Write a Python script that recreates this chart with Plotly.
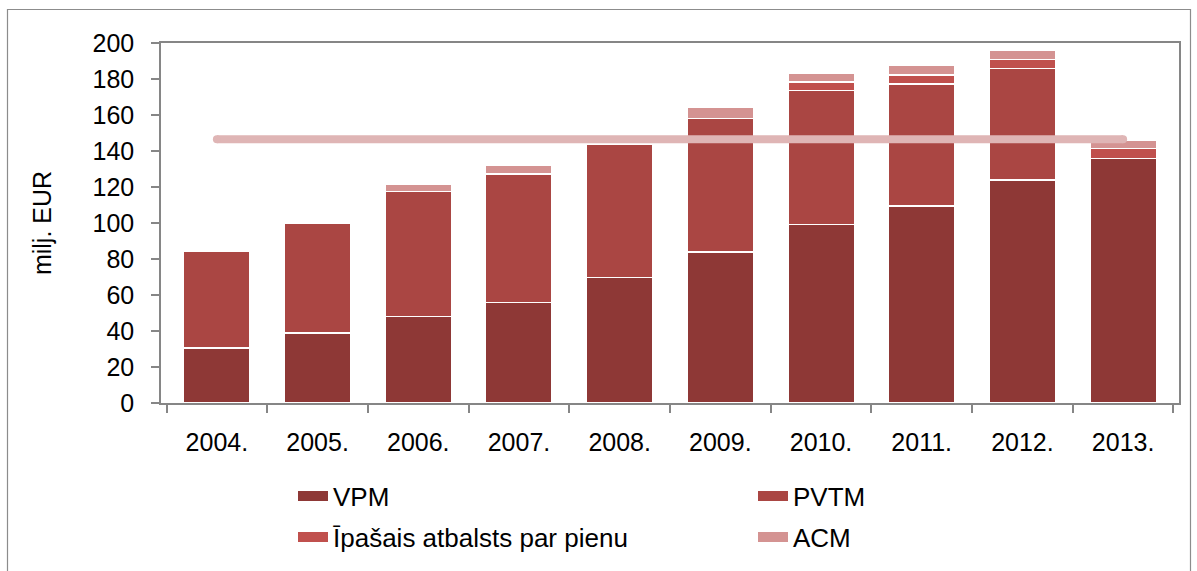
import plotly.graph_objects as go

years = ['2004.', '2005.', '2006.', '2007.', '2008.', '2009.', '2010.', '2011.', '2012.', '2013.']
vpm = [30.5, 38.8, 48.1, 55.7, 69.6, 83.9, 99.2, 109.5, 124.0, 135.9]
pvtm = [53.8, 60.9, 69.4, 71.5, 73.9, 74.1, 74.4, 67.8, 61.9, 0]
ipasais = [0, 0, 0, 0, 0, 0, 4.8, 5.0, 5.0, 5.4]
acm = [0, 0, 4.1, 5.0, 0, 6.1, 4.9, 5.1, 5.0, 4.8]
quota = [146.5] * len(years)
y_ticks = [0, 20, 40, 60, 80, 100, 120, 140, 160, 180, 200]

series = [
    ('VPM', vpm, '#8e3836', 'legend'),
    ('PVTM', pvtm, '#aa4643', 'legend'),
    ('Īpašais atbalsts par pienu', ipasais, '#c0504d', 'legend2'),
    ('ACM', acm, '#d49392', 'legend2'),
]

fig = go.Figure()
for name, vals, col, lg in series:
    fig.add_trace(go.Bar(
        x=years, y=vals, name=name, marker=dict(color=col, line=dict(color='white', width=1.5)),
        showlegend=False, hoverinfo='x+y+name'))

fig.add_trace(go.Scatter(
    x=years, y=quota, mode='lines', line=dict(color='#dfb5b5', width=8),
    showlegend=False, hoverinfo='skip'))
fig.add_trace(go.Scatter(
    x=[years[0], years[-1]], y=[quota[0], quota[-1]], mode='markers',
    marker=dict(color='#dfb5b5', size=8), showlegend=False, hoverinfo='skip'))

# legend entries (line swatches to mimic wide rectangles)
for name, vals, col, lg in series:
    fig.add_trace(go.Scatter(
        x=[None], y=[None], mode='lines', name=name, legend=lg,
        line=dict(color=col, width=11), showlegend=True))

L, R, T, B = 161, 18, 43, 168
W, H = 1197, 571
pw = W - L - R
ph = H - T - B

def px_to_paper_x(px):
    return (px - L) / pw

def px_to_paper_y(py):
    return (H - B - py) / ph

fig.add_shape(type='rect', xref='paper', yref='paper',
              x0=px_to_paper_x(7.5), x1=px_to_paper_x(1190.5),
              y0=px_to_paper_y(575), y1=px_to_paper_y(9.5),
              line=dict(color='#8c8c8c', width=1.2), fillcolor='rgba(0,0,0,0)', layer='below')

legend_common = dict(orientation='h', xanchor='left', yanchor='middle',
                     entrywidth=415, entrywidthmode='pixels', itemwidth=30,
                     traceorder='normal', font=dict(size=26), bgcolor='rgba(0,0,0,0)')

fig.update_layout(
    width=W, height=H,
    margin=dict(l=L, r=R, t=T, b=B, autoexpand=False),
    barmode='stack', bargap=0.34,
    plot_bgcolor='white', paper_bgcolor='white',
    font=dict(family='Liberation Sans, Arial, sans-serif', size=25, color='black'),
    legend=dict(x=px_to_paper_x(293), y=px_to_paper_y(496), **legend_common),
    legend2=dict(x=px_to_paper_x(293), y=px_to_paper_y(537), **legend_common),
    showlegend=True,
)

fig.update_xaxes(
    type='category', showline=True, linecolor='#868686', linewidth=1.5, mirror=True,
    ticks='outside', ticklen=8, tickcolor='#868686', tickwidth=1.5, tickson='boundaries',
    ticklabelstandoff=16,
    showgrid=False, tickfont=dict(size=25), fixedrange=True)
fig.update_yaxes(
    range=[0, 200], tickvals=y_ticks, showline=True, linecolor='#868686', linewidth=1.5, mirror=True,
    ticks='outside', ticklen=8, tickcolor='#868686', tickwidth=1.5, showgrid=False, zeroline=False,
    ticklabelstandoff=12,
    title=dict(text='milj. EUR', font=dict(size=25), standoff=34), tickfont=dict(size=25), fixedrange=True)

fig.write_html('out.html', config={'displayModeBar': False},
               post_script=("document.body.style.margin='0';"
                            "document.body.style.overflow='hidden';"
                            "document.documentElement.style.overflow='hidden';"))
